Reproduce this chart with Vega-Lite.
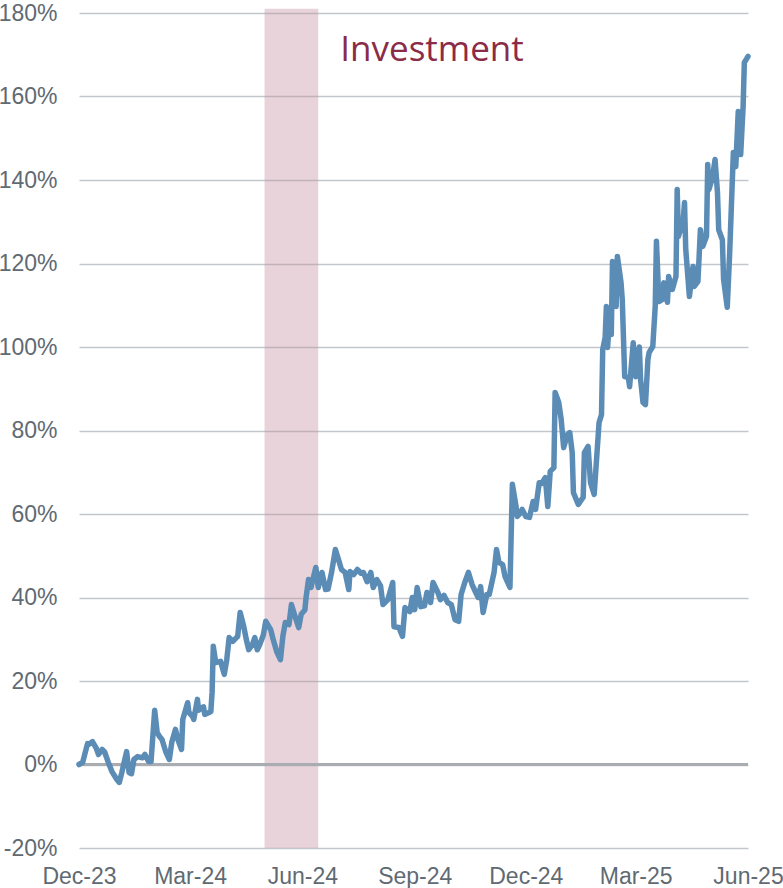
{
  "$schema": "https://vega.github.io/schema/vega-lite/v6.json",
  "width": 669,
  "height": 835,
  "autosize": {"type": "none"},
  "padding": {"left": 79, "top": 13, "right": 35, "bottom": 40},
  "background": "white",
  "config": {"view": {"stroke": null}},
  "encoding": {
    "x": {
      "field": "date", "type": "temporal", "title": null,
      "scale": {"type": "utc", "domain": [{"year": 2023, "month": 12, "date": 1, "utc": true}, {"year": 2025, "month": 6, "date": 1, "utc": true}]},
      "axis": {
        "values": [
          {"year": 2023, "month": 12, "date": 1, "utc": true},
          {"year": 2024, "month": 3, "date": 1, "utc": true},
          {"year": 2024, "month": 6, "date": 1, "utc": true},
          {"year": 2024, "month": 9, "date": 1, "utc": true},
          {"year": 2024, "month": 12, "date": 1, "utc": true},
          {"year": 2025, "month": 3, "date": 1, "utc": true},
          {"year": 2025, "month": 6, "date": 1, "utc": true}
        ],
        "labelExpr": "utcFormat(datum.value, '%b-%y')",
        "grid": false, "domain": false, "ticks": false,
        "labelFont": "Liberation Sans", "labelFontSize": 23, "labelColor": "#5f6a72",
        "labelPadding": 17, "labelOverlap": false, "labelFlush": false
      }
    },
    "y": {
      "field": "v", "type": "quantitative", "title": null,
      "scale": {"domain": [-20, 180], "nice": false, "zero": false},
      "axis": {
        "values": [-20, 0, 20, 40, 60, 80, 100, 120, 140, 160, 180],
        "labelExpr": "datum.value + '%'",
        "grid": true, "gridColor": "#c3c7cb", "gridWidth": 1.5,
        "domain": false, "ticks": false,
        "labelFont": "Liberation Sans", "labelFontSize": 23, "labelColor": "#5f6a72",
        "labelPadding": 22, "labelOverlap": false
      }
    }
  },
  "layer": [
    {
      "data": {"values": [{"date": "2024-05-01", "date2": "2024-06-14", "v": -20, "v2": 181}]},
      "mark": {"type": "rect", "color": "#c4909f", "opacity": 0.4},
      "encoding": {"x2": {"field": "date2"}, "y2": {"field": "v2"}}
    },
    {
      "data": {"values": [{"date": "2023-12-01", "date2": "2025-06-01", "v": 0}]},
      "mark": {"type": "rule", "color": "#a9adb1", "strokeWidth": 3},
      "encoding": {"x2": {"field": "date2"}}
    },
    {
      "data": {"values": [
        {"date": "2023-12-01", "v": 0},
        {"date": "2023-12-04", "v": 0.5},
        {"date": "2023-12-08", "v": 5},
        {"date": "2023-12-09", "v": 4.8},
        {"date": "2023-12-12", "v": 5.5},
        {"date": "2023-12-15", "v": 4},
        {"date": "2023-12-17", "v": 2.4},
        {"date": "2023-12-20", "v": 3.6},
        {"date": "2023-12-22", "v": 3},
        {"date": "2023-12-25", "v": 0.5},
        {"date": "2023-12-28", "v": -1.7},
        {"date": "2024-01-01", "v": -3.6},
        {"date": "2024-01-03", "v": -4.3},
        {"date": "2024-01-05", "v": -2},
        {"date": "2024-01-09", "v": 3.1},
        {"date": "2024-01-11", "v": -1.9},
        {"date": "2024-01-13", "v": -2.2},
        {"date": "2024-01-15", "v": 1.2},
        {"date": "2024-01-18", "v": 1.9},
        {"date": "2024-01-22", "v": 1.6},
        {"date": "2024-01-24", "v": 2.4},
        {"date": "2024-01-27", "v": 0.7},
        {"date": "2024-01-29", "v": 0.7},
        {"date": "2024-02-01", "v": 13},
        {"date": "2024-02-03", "v": 7.7},
        {"date": "2024-02-05", "v": 6.7},
        {"date": "2024-02-07", "v": 6},
        {"date": "2024-02-10", "v": 3.1},
        {"date": "2024-02-13", "v": 1.2},
        {"date": "2024-02-15", "v": 5.3},
        {"date": "2024-02-18", "v": 8.4},
        {"date": "2024-02-20", "v": 6},
        {"date": "2024-02-23", "v": 3.6},
        {"date": "2024-02-24", "v": 10.8},
        {"date": "2024-02-28", "v": 14.8},
        {"date": "2024-02-29", "v": 12.5},
        {"date": "2024-03-03", "v": 11.5},
        {"date": "2024-03-04", "v": 10.8},
        {"date": "2024-03-07", "v": 15.6},
        {"date": "2024-03-08", "v": 13},
        {"date": "2024-03-12", "v": 13.8},
        {"date": "2024-03-13", "v": 12},
        {"date": "2024-03-16", "v": 12.4},
        {"date": "2024-03-18", "v": 12.7},
        {"date": "2024-03-19", "v": 17.2},
        {"date": "2024-03-20", "v": 28.3},
        {"date": "2024-03-22", "v": 24.4},
        {"date": "2024-03-26", "v": 24.7},
        {"date": "2024-03-29", "v": 21.6},
        {"date": "2024-03-31", "v": 25},
        {"date": "2024-04-02", "v": 30.4},
        {"date": "2024-04-05", "v": 29.5},
        {"date": "2024-04-09", "v": 30.7},
        {"date": "2024-04-11", "v": 36.4},
        {"date": "2024-04-14", "v": 33},
        {"date": "2024-04-16", "v": 30},
        {"date": "2024-04-18", "v": 27.5},
        {"date": "2024-04-21", "v": 28.7},
        {"date": "2024-04-23", "v": 30.4},
        {"date": "2024-04-25", "v": 27.5},
        {"date": "2024-04-27", "v": 28.7},
        {"date": "2024-04-30", "v": 31},
        {"date": "2024-05-02", "v": 34.3},
        {"date": "2024-05-06", "v": 32.3},
        {"date": "2024-05-08", "v": 30},
        {"date": "2024-05-11", "v": 27},
        {"date": "2024-05-14", "v": 25.1},
        {"date": "2024-05-16", "v": 30.7},
        {"date": "2024-05-18", "v": 34},
        {"date": "2024-05-21", "v": 33.5},
        {"date": "2024-05-23", "v": 38.3},
        {"date": "2024-05-25", "v": 36.4},
        {"date": "2024-05-26", "v": 35.4},
        {"date": "2024-05-29", "v": 32.8},
        {"date": "2024-05-31", "v": 36},
        {"date": "2024-06-03", "v": 37},
        {"date": "2024-06-04", "v": 40},
        {"date": "2024-06-06", "v": 44.3},
        {"date": "2024-06-08", "v": 42.4},
        {"date": "2024-06-12", "v": 47.2},
        {"date": "2024-06-14", "v": 42.4},
        {"date": "2024-06-17", "v": 46},
        {"date": "2024-06-20", "v": 41.9},
        {"date": "2024-06-22", "v": 42},
        {"date": "2024-06-25", "v": 46.2},
        {"date": "2024-06-28", "v": 51.5},
        {"date": "2024-06-30", "v": 49.6},
        {"date": "2024-07-03", "v": 46.7},
        {"date": "2024-07-06", "v": 46},
        {"date": "2024-07-09", "v": 41.9},
        {"date": "2024-07-10", "v": 46.2},
        {"date": "2024-07-13", "v": 45.5},
        {"date": "2024-07-16", "v": 46.7},
        {"date": "2024-07-19", "v": 45.8},
        {"date": "2024-07-21", "v": 46},
        {"date": "2024-07-24", "v": 43.8},
        {"date": "2024-07-27", "v": 46},
        {"date": "2024-07-29", "v": 42.4},
        {"date": "2024-08-01", "v": 44.3},
        {"date": "2024-08-04", "v": 42.8},
        {"date": "2024-08-06", "v": 38.3},
        {"date": "2024-08-10", "v": 39.5},
        {"date": "2024-08-14", "v": 43.6},
        {"date": "2024-08-15", "v": 33},
        {"date": "2024-08-19", "v": 32.8},
        {"date": "2024-08-22", "v": 30.7},
        {"date": "2024-08-24", "v": 37.6},
        {"date": "2024-08-28", "v": 36.6},
        {"date": "2024-08-30", "v": 40},
        {"date": "2024-09-01", "v": 37.1},
        {"date": "2024-09-03", "v": 42.4},
        {"date": "2024-09-06", "v": 37.8},
        {"date": "2024-09-09", "v": 38},
        {"date": "2024-09-11", "v": 41.2},
        {"date": "2024-09-14", "v": 38.8},
        {"date": "2024-09-16", "v": 43.6},
        {"date": "2024-09-20", "v": 41.2},
        {"date": "2024-09-22", "v": 39.5},
        {"date": "2024-09-25", "v": 40.5},
        {"date": "2024-09-28", "v": 38.8},
        {"date": "2024-10-01", "v": 38.3},
        {"date": "2024-10-04", "v": 34.7},
        {"date": "2024-10-07", "v": 34.3},
        {"date": "2024-10-09", "v": 40.7},
        {"date": "2024-10-12", "v": 43.6},
        {"date": "2024-10-15", "v": 46},
        {"date": "2024-10-18", "v": 43.1},
        {"date": "2024-10-21", "v": 41.2},
        {"date": "2024-10-23", "v": 40},
        {"date": "2024-10-25", "v": 42.6},
        {"date": "2024-10-27", "v": 36.4},
        {"date": "2024-10-30", "v": 40.7},
        {"date": "2024-11-01", "v": 40.7},
        {"date": "2024-11-05", "v": 46},
        {"date": "2024-11-07", "v": 51.5},
        {"date": "2024-11-09", "v": 48.4},
        {"date": "2024-11-12", "v": 47.9},
        {"date": "2024-11-14", "v": 45},
        {"date": "2024-11-18", "v": 42.4},
        {"date": "2024-11-20", "v": 67.1},
        {"date": "2024-11-23", "v": 61.8},
        {"date": "2024-11-24", "v": 59.4},
        {"date": "2024-11-27", "v": 60.4},
        {"date": "2024-11-28", "v": 61.1},
        {"date": "2024-12-01", "v": 59.4},
        {"date": "2024-12-04", "v": 59.2},
        {"date": "2024-12-07", "v": 63},
        {"date": "2024-12-09", "v": 61.1},
        {"date": "2024-12-12", "v": 67.5},
        {"date": "2024-12-14", "v": 67.3},
        {"date": "2024-12-16", "v": 68.3},
        {"date": "2024-12-17", "v": 68.7},
        {"date": "2024-12-19", "v": 61.8},
        {"date": "2024-12-21", "v": 70.2},
        {"date": "2024-12-24", "v": 71.1},
        {"date": "2024-12-25", "v": 89.1},
        {"date": "2024-12-28", "v": 86.7},
        {"date": "2024-12-30", "v": 82.6},
        {"date": "2025-01-01", "v": 75.9},
        {"date": "2025-01-04", "v": 79},
        {"date": "2025-01-06", "v": 79.5},
        {"date": "2025-01-08", "v": 74.7},
        {"date": "2025-01-09", "v": 65.1},
        {"date": "2025-01-13", "v": 62.3},
        {"date": "2025-01-17", "v": 64},
        {"date": "2025-01-18", "v": 74.7},
        {"date": "2025-01-21", "v": 76.2},
        {"date": "2025-01-23", "v": 67.5},
        {"date": "2025-01-26", "v": 64.7},
        {"date": "2025-01-30", "v": 81.9},
        {"date": "2025-02-01", "v": 83.8},
        {"date": "2025-02-02", "v": 99.4},
        {"date": "2025-02-04", "v": 102.3},
        {"date": "2025-02-05", "v": 109.7},
        {"date": "2025-02-06", "v": 99.9},
        {"date": "2025-02-08", "v": 109},
        {"date": "2025-02-09", "v": 103},
        {"date": "2025-02-10", "v": 120.5},
        {"date": "2025-02-13", "v": 109.7},
        {"date": "2025-02-14", "v": 121.7},
        {"date": "2025-02-17", "v": 115.4},
        {"date": "2025-02-18", "v": 111.4},
        {"date": "2025-02-20", "v": 92.9},
        {"date": "2025-02-23", "v": 92.7},
        {"date": "2025-02-24", "v": 90.5},
        {"date": "2025-02-27", "v": 101},
        {"date": "2025-03-01", "v": 92.9},
        {"date": "2025-03-04", "v": 100},
        {"date": "2025-03-05", "v": 92.2},
        {"date": "2025-03-07", "v": 86.7},
        {"date": "2025-03-09", "v": 86.2},
        {"date": "2025-03-11", "v": 97},
        {"date": "2025-03-12", "v": 98.7},
        {"date": "2025-03-15", "v": 100.1},
        {"date": "2025-03-17", "v": 109.7},
        {"date": "2025-03-18", "v": 125.3},
        {"date": "2025-03-20", "v": 110.9},
        {"date": "2025-03-23", "v": 111.4},
        {"date": "2025-03-24", "v": 115.4},
        {"date": "2025-03-27", "v": 110.7},
        {"date": "2025-03-28", "v": 116.9},
        {"date": "2025-03-31", "v": 113.8},
        {"date": "2025-04-03", "v": 116.9},
        {"date": "2025-04-04", "v": 137.7},
        {"date": "2025-04-05", "v": 126.5},
        {"date": "2025-04-09", "v": 130.5},
        {"date": "2025-04-10", "v": 134.6},
        {"date": "2025-04-11", "v": 123.4},
        {"date": "2025-04-14", "v": 112.1},
        {"date": "2025-04-17", "v": 119.3},
        {"date": "2025-04-18", "v": 114.5},
        {"date": "2025-04-21", "v": 115.7},
        {"date": "2025-04-23", "v": 128.1},
        {"date": "2025-04-25", "v": 124.1},
        {"date": "2025-04-28", "v": 126.5},
        {"date": "2025-04-29", "v": 143.7},
        {"date": "2025-04-30", "v": 137.7},
        {"date": "2025-05-03", "v": 140.8},
        {"date": "2025-05-05", "v": 144.9},
        {"date": "2025-05-07", "v": 137},
        {"date": "2025-05-08", "v": 128.1},
        {"date": "2025-05-11", "v": 125.7},
        {"date": "2025-05-12", "v": 116.2},
        {"date": "2025-05-15", "v": 109.5},
        {"date": "2025-05-17", "v": 122.6},
        {"date": "2025-05-20", "v": 146.6},
        {"date": "2025-05-22", "v": 143.2},
        {"date": "2025-05-24", "v": 156.4},
        {"date": "2025-05-26", "v": 146.1},
        {"date": "2025-05-28", "v": 157.6},
        {"date": "2025-05-29", "v": 168.1},
        {"date": "2025-06-01", "v": 169.6}
      ]},
      "mark": {"type": "line", "color": "#5b8cb6", "strokeWidth": 5.5, "strokeJoin": "round", "strokeCap": "round"}
    },
    {
      "data": {"values": [{"date": "2024-07-02", "v": 168.4, "label": "Investment"}]},
      "mark": {"type": "text", "align": "left", "baseline": "alphabetic", "font": "Open Sans", "fontSize": 35, "color": "#8b2b47"},
      "encoding": {"text": {"field": "label"}}
    }
  ]
}
